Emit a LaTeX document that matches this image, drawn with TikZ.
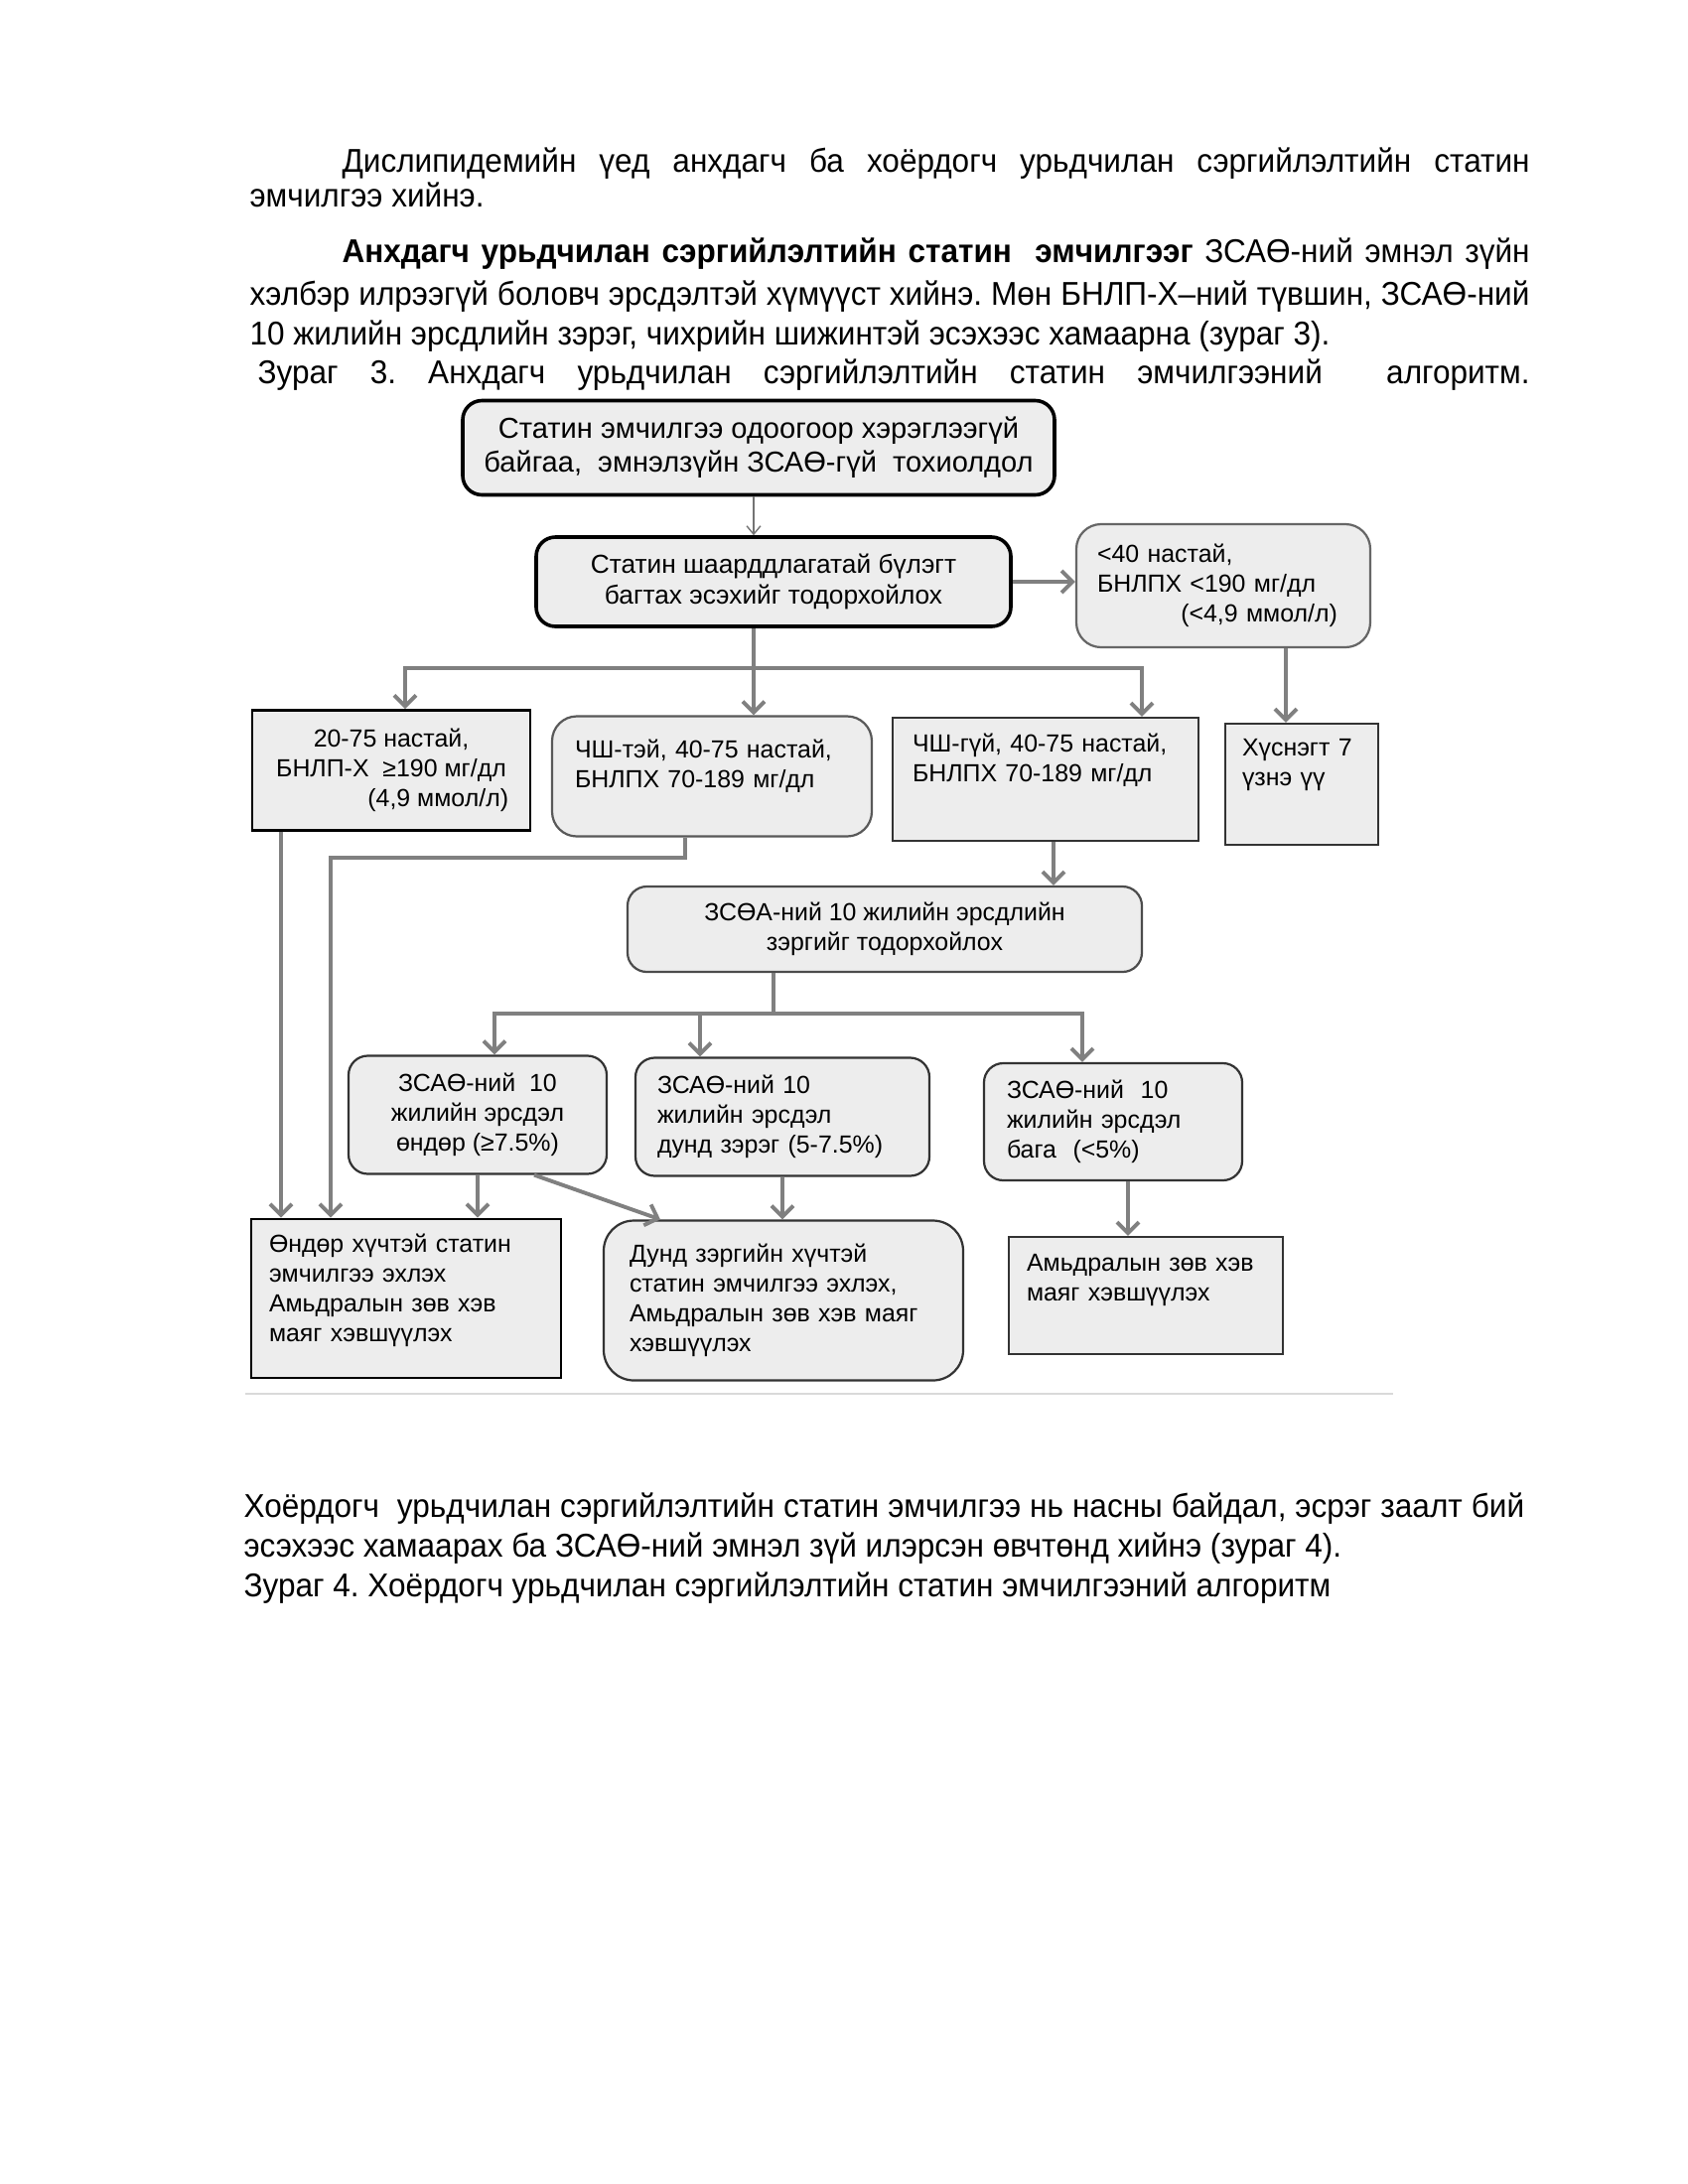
\documentclass[tikz,border=0pt]{standalone}
\usepackage{fontspec}
\setmainfont{Liberation Sans}
\newfontfamily\bodyfont{Liberation Sans}[FakeStretch=0.95]
\usetikzlibrary{arrows.meta,positioning}
\newcommand{\padbelow}[1]{\rule[-#1]{0pt}{#1}}
\frenchspacing

\begin{document}
\begin{tikzpicture}[
    x=0.127mm, y=-0.127mm,
    every node/.style={align=center},
    bsize/.style 2 args={minimum width=#1*0.127mm, minimum height=#2*0.127mm},
    tw/.style={text width=#1*0.127mm},
    box/.style={rectangle, draw=black!80, line width=0.8pt, fill=black!7,
                inner sep=0pt, font=\fontsize{9}{10.8}\selectfont},
    rbox/.style={box, rounded corners=7pt},
    heavy/.style={draw=black, line width=1.3pt},
    lbox/.style={align=left},
    bodyline/.style={anchor=base west, inner sep=0pt,
                     font=\bodyfont\fontsize{12}{14}\selectfont},
    gline/.style={draw=black!50, line width=1.4pt},
    arr/.style={gline, -{Straight Barb[length=4pt,width=8pt]}},
    thinarr/.style={draw=black!55, line width=0.5pt,
                    -{Straight Barb[length=3pt,width=5pt]}},
    sepline/.style={draw=black!15, line width=0.6pt}
  ]
  \useasboundingbox[fill=white] (0,0) rectangle (1700,2200);

  % text above the figure
  \node[bodyline] (p1) at (344,173) {\makebox[151.9mm][s]{Дислипидемийн үед анхдагч ба хоёрдогч урьдчилан сэргийлэлтийн статин}};
  \node[bodyline] (p2) at (251,208) {эмчилгээ хийнэ.};
  \node[bodyline] (p3) at (344,264) {\makebox[151.9mm][s]{\textbf{Анхдагч урьдчилан сэргийлэлтийн статин\ \ эмчилгээг} ЗСАӨ-ний эмнэл зүйн}};
  \node[bodyline] (p4) at (251,307) {\makebox[163.7mm][s]{хэлбэр илрээгүй боловч эрсдэлтэй хүмүүст хийнэ. Мөн БНЛП-Х–ний түвшин, ЗСАӨ-ний}};
  \node[bodyline] (p5) at (251,347) {10 жилийн эрсдлийн зэрэг, чихрийн шижинтэй эсэхээс хамаарна (зураг 3).};
  \node[bodyline] (cap3) at (259,386) {\makebox[162.7mm][s]{Зураг 3. Анхдагч урьдчилан сэргийлэлтийн статин эмчилгээний\ \ алгоритм.}};

  % boxes
  \node[rbox, heavy, bsize={596}{95}, font=\fontsize{10.5}{12.4}\selectfont] (start) at (764,451)
    {Статин эмчилгээ одоогоор хэрэглээгүй\\байгаа,\ \ эмнэлзүйн ЗСАӨ-гүй\ \ тохиолдол};
  \node[rbox, heavy, bsize={478}{90}, font=\fontsize{9.5}{11.2}\selectfont] (need) at (779,586)
    {Статин шаарддлагатай бүлэгт\\багтах эсэхийг тодорхойлох};
  \node[rbox, draw=black!60, rounded corners=9pt, bsize={296}{124}, lbox, tw={254}] (young) at (1232,590)
    {<40 настай,\\БНЛПХ <190 мг/дл\\\hspace*{10.7mm}(<4,9 ммол/л)};

  \node[box, heavy, line width=1pt, bsize={280}{121}] (ldl) at (394,776)
    {20-75 настай,\\БНЛП-Х\ \ ≥190 мг/дл\\\hspace*{12mm}(4,9 ммол/л)};
  \node[rbox, draw=black!65, rounded corners=9pt, bsize={322}{121}, lbox, tw={276}] (dm) at (717,782)
    {ЧШ-тэй, 40-75 настай,\\БНЛПХ 70-189 мг/дл\padbelow{3.3mm}};
  \node[box, bsize={308}{124}, lbox, tw={268}] (nodm) at (1053,785)
    {ЧШ-гүй, 40-75 настай,\\БНЛПХ 70-189 мг/дл\padbelow{5.6mm}};
  \node[box, bsize={154}{122}, lbox, tw={120}] (table7) at (1311,790)
    {Хүснэгт 7\\үзнэ үү\padbelow{5.6mm}};

  \node[rbox, draw=black!70, bsize={518}{86}] (risk) at (891,936)
    {ЗСӨА-ний 10 жилийн эрсдлийн\\зэргийг тодорхойлох};

  \node[rbox, bsize={260}{119}] (high) at (481,1123)
    {ЗСАӨ-ний\ \ 10\\жилийн эрсдэл\\өндөр (≥7.5\%)};
  \node[rbox, bsize={296}{119}, lbox, tw={252}] (mid) at (788,1125)
    {ЗСАӨ-ний 10\\жилийн эрсдэл\\дунд зэрэг (5-7.5\%)};
  \node[rbox, bsize={260}{118}, lbox, tw={214}] (low) at (1121,1130)
    {ЗСАӨ-ний\ \ 10\\жилийн эрсдэл\\бага\ \ (<5\%)};

  \node[box, heavy, line width=1pt, bsize={312}{160}, lbox, tw={276}] (hightx) at (409,1308)
    {Өндөр хүчтэй статин\\эмчилгээ эхлэх\\Амьдралын зөв хэв\\маяг хэвшүүлэх\padbelow{2.8mm}};
  \node[rbox, rounded corners=11pt, bsize={362}{161}, lbox, tw={310}] (midtx) at (789,1310)
    {Дунд зэргийн хүчтэй\\статин эмчилгээ эхлэх,\\Амьдралын зөв хэв маяг\\хэвшүүлэх};
  \node[box, bsize={276}{118}, lbox, tw={240}] (life) at (1154,1305)
    {Амьдралын зөв хэв\\маяг хэвшүүлэх\padbelow{4.6mm}};

  % turning points of the connectors
  \coordinate (spine) at (759,673);
  \coordinate (barL) at (408,673);
  \coordinate (barR) at (1150,673);
  \coordinate (youngout) at (1295,0);
  \coordinate (ldlout) at (283,0);
  \coordinate (dmbend) at (690,0);
  \coordinate (dmleft) at (333,864);
  \coordinate (riskin) at (1061,0);
  \coordinate (split) at (779,1021);
  \coordinate (splitL) at (498,1021);
  \coordinate (splitM) at (705,1021);
  \coordinate (splitR) at (1090,1021);
  \coordinate (diagfrom) at (538,0);
  \coordinate (diagto) at (665,0);
  \coordinate (lowout) at (1136,0);

  \draw[thinarr] (start.south -| spine) -- (need.north -| spine);
  \draw[arr] (need.east) -- (need.east -| young.west);
  \draw[arr] (young.south -| youngout) -- (table7.north -| youngout);

  \draw[gline] (need.south -| spine) -- (spine);
  \draw[arr] (spine) -| (ldl.north -| barL);
  \draw[arr] (spine) -| (nodm.north -| barR);
  \draw[arr] (spine) -- (dm.north -| spine);

  \draw[arr] (ldl.south -| ldlout) -- (hightx.north -| ldlout);
  \draw[arr] (dm.south -| dmbend) |- (dmleft) -- (dmleft |- hightx.north);
  \draw[arr] (nodm.south -| riskin) -- (risk.north -| riskin);

  \draw[gline] (risk.south -| split) -- (split);
  \draw[arr] (split) -| (high.north -| splitL);
  \draw[arr] (split) -| (low.north -| splitR);
  \draw[arr] (splitM) -- (mid.north -| splitM);

  \draw[arr] (high.south) -- (high.south |- hightx.north);
  \draw[arr] (high.south -| diagfrom) -- (midtx.north -| diagto);
  \draw[arr] (mid.south) -- (mid.south |- midtx.north);
  \draw[arr] (low.south -| lowout) -- (life.north -| lowout);

  \draw[sepline] (247,1404) -- (1403,1404);

  % text below the figure
  \node[bodyline] (q1) at (245,1528) {\makebox[163.8mm][s]{Хоёрдогч\ \ урьдчилан сэргийлэлтийн статин эмчилгээ нь насны байдал, эсрэг заалт бий}};
  \node[bodyline] (q2) at (245,1568) {эсэхээс хамаарах ба ЗСАӨ-ний эмнэл зүй илэрсэн өвчтөнд хийнэ (зураг 4).};
  \node[bodyline] (cap4) at (245,1608) {Зураг 4. Хоёрдогч урьдчилан сэргийлэлтийн статин эмчилгээний алгоритм};
\end{tikzpicture}
\end{document}
